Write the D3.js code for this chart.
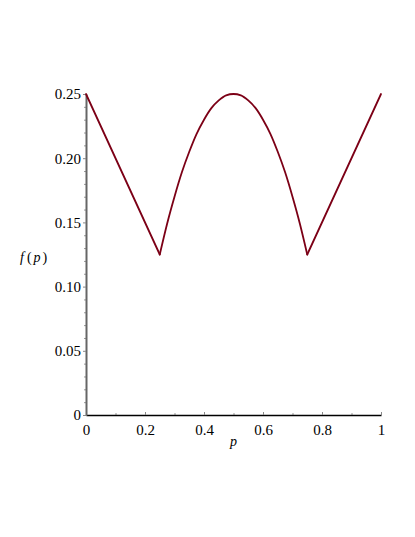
<!DOCTYPE html>
<html>
<head>
<meta charset="utf-8">
<script src="https://cdn.jsdelivr.net/npm/d3@7"></script>
<style>
  body { margin: 0; background: #fff; }
</style>
</head>
<body>
<div id="chart"></div>
<script>
/** Data */

var pValues = [0, 0.25, 0.275, 0.3, 0.325, 0.35, 0.375, 0.4, 0.425, 0.45, 0.475, 0.5,
               0.525, 0.55, 0.575, 0.6, 0.625, 0.65, 0.675, 0.7, 0.725, 0.75, 1];
var fValues = [0.25, 0.125, 0.149, 0.17, 0.189, 0.205, 0.219, 0.23, 0.239, 0.245, 0.249, 0.25,
               0.249, 0.245, 0.239, 0.23, 0.219, 0.205, 0.189, 0.17, 0.149, 0.125, 0.25];

var xTicks = [0, 0.2, 0.4, 0.6, 0.8, 1];
var xTickLabels = ["0", "0.2", "0.4", "0.6", "0.8", "1"];
var xMinorTicks = [0.1, 0.3, 0.5, 0.7, 0.9];
var yTicks = [0, 0.05, 0.10, 0.15, 0.20, 0.25];
var yTickLabels = ["0", "0.05", "0.10", "0.15", "0.20", "0.25"];
var yMinorTicks = [0.01, 0.02, 0.03, 0.04, 0.06, 0.07, 0.08, 0.09, 0.11, 0.12, 0.13, 0.14,
                   0.16, 0.17, 0.18, 0.19, 0.21, 0.22, 0.23, 0.24];

var FONT = "'Liberation Serif', 'Times New Roman', serif";
var W = 415, H = 537;
var margin = {top: 94, right: 34, bottom: 122, left: 86};
var width = W - margin.left - margin.right;
var height = H - margin.top - margin.bottom;

var data = pValues.map(function(p, i) { return {p: p, f: fValues[i]}; });

var svg = d3.select("#chart").append("svg")
  .attr("width", W)
  .attr("height", H)
  .style("font-family", FONT);

var g = svg.append("g")
  .attr("transform", "translate(" + margin.left + "," + margin.top + ")");

var x = d3.scaleLinear().domain([0, 1]).range([0, width]);
var y = d3.scaleLinear().domain([0, 0.25]).range([height, 0]);

// minor ticks
g.append("g")
  .attr("transform", "translate(0," + height + ")")
  .call(d3.axisTop(x).tickValues(xMinorTicks).tickSize(2).tickFormat(""))
  .call(function(s) { s.select(".domain").remove(); s.selectAll("line").attr("stroke", "#999"); });

g.append("g")
  .call(d3.axisLeft(y).tickValues(yMinorTicks).tickSize(2).tickFormat(""))
  .call(function(s) { s.select(".domain").remove(); s.selectAll("line").attr("stroke", "#999"); });

// x axis
var xAxis = g.append("g")
  .attr("transform", "translate(0," + height + ")")
  .call(d3.axisTop(x).tickValues(xTicks).tickSize(3).tickSizeOuter(0)
    .tickFormat(function(d, i) { return xTickLabels[i]; }));
xAxis.attr("font-family", null);
xAxis.select(".domain").attr("stroke", "#000").attr("stroke-width", 1.5);
xAxis.selectAll(".tick line").attr("stroke", "#888");
xAxis.selectAll(".tick text")
  .attr("y", 20)
  .attr("dy", 0)
  .style("font-family", FONT)
  .style("font-size", "15px")
  .attr("fill", "#000");

// y axis
var yAxis = g.append("g")
  .call(d3.axisLeft(y).tickValues(yTicks).tickSize(3).tickSizeOuter(0)
    .tickFormat(function(d, i) { return yTickLabels[i]; }));
yAxis.attr("font-family", null);
yAxis.select(".domain").attr("stroke", "#666").attr("stroke-width", 2);
yAxis.selectAll(".tick line").attr("stroke", "#888");
yAxis.selectAll(".tick text")
  .attr("x", -5)
  .style("font-family", FONT)
  .style("font-size", "15px")
  .attr("fill", "#000");

// axis titles
var yTitle = svg.append("text")
  .attr("x", 20)
  .attr("y", 262)
  .style("font-family", FONT)
  .style("font-size", "14px");
yTitle.append("tspan").attr("font-style", "italic").text("f");
yTitle.append("tspan").attr("dx", 3).text("(");
yTitle.append("tspan").attr("dx", 2).attr("font-style", "italic").text("p");
yTitle.append("tspan").attr("dx", 2).text(")");

svg.append("text")
  .attr("x", margin.left + x(0.5))
  .attr("y", 446)
  .attr("text-anchor", "middle")
  .attr("font-style", "italic")
  .style("font-family", FONT)
  .style("font-size", "14px")
  .text("p");

// curve: straight pieces, smooth arch in the middle
var line = d3.line()
  .x(function(d) { return x(d.p); })
  .y(function(d) { return y(d.f); });

var curveStyle = function(path) {
  path.attr("fill", "none")
    .attr("stroke", "#7c0016")
    .attr("stroke-width", 1.8)
    .attr("stroke-linejoin", "round")
    .attr("stroke-linecap", "round");
};

g.append("path").datum(data.slice(0, 2)).call(curveStyle).attr("d", line);
g.append("path").datum(data.slice(1, data.length - 1)).call(curveStyle)
  .attr("d", line.curve(d3.curveMonotoneX));
g.append("path").datum(data.slice(data.length - 2)).call(curveStyle)
  .attr("d", line.curve(d3.curveLinear));
</script>
</body>
</html>
